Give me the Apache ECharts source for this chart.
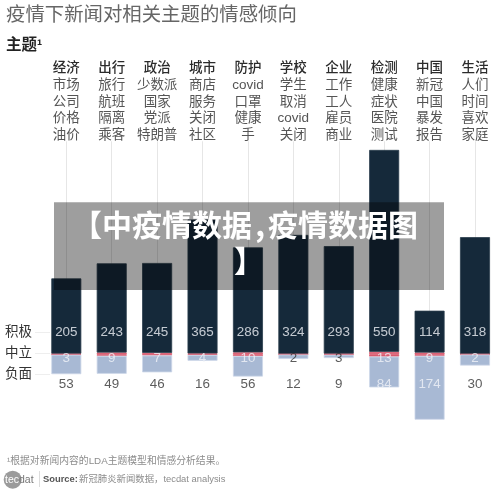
<!DOCTYPE html>
<html lang="zh">
<head>
    <meta charset="UTF-8">
    <title>疫情下新闻对相关主题的情感倾向</title>
    <style>
        body{ margin: 0; background: #fff; }
        #chart{ width: 500px; height: 492px; }
    </style>
    <script src="https://cdn.jsdelivr.net/npm/echarts@6/dist/echarts.min.js"></script>
</head>
<body>
<div id="chart"></div>
<script type="text/javascript">
    var topics = ['经济','出行','政治','城市','防护','学校','企业','检测','中国','生活'];
    var topicWords = [
        ['市场','公司','价格','油价'],
        ['旅行','航班','隔离','乘客'],
        ['少数派','国家','党派','特朗普'],
        ['商店','服务','关闭','社区'],
        ['covid','口罩','健康','手'],
        ['学生','取消','covid','关闭'],
        ['工作','工人','雇员','商业'],
        ['健康','症状','医院','测试'],
        ['新冠','中国','暴发','报告'],
        ['人们','时间','喜欢','家庭']
    ];
    var positive = [205,243,245,365,286,324,293,550,114,318];
    var neutral = [3,9,7,4,10,2,3,13,9,2];
    var negative = [53,49,46,16,56,12,9,84,174,30];
    var rowNames = ['积极','中立','负面'];
    var rowTicks = [60,3,-56];

    var FONT = '"Liberation Sans","Noto Sans CJK SC",sans-serif';
    var DARK_TEXT = '#333';
    var LIGHT_TEXT = '#f0f3f7';
    var Y_MAX = 580, Y_MIN = -200;
    var ROW_POS = 60, ROW_NEU = -11, ROW_NEG = -82;   // fixed heights of the number rows

    // neutral sits centred on the zero line, half up and half down
    var neutralHalf = neutral.map(function(v){ return v / 2; });
    var neutralHalfDown = neutral.map(function(v){ return -v / 2; });
    var negativeDown = negative.map(function(v){ return -v; });

    function barSeries(name, data, color, border){
        return {
            name: name, type: 'bar', stack: 'sentiment', barWidth: 30, z: 2,
            data: data,
            itemStyle: { color: color, borderColor: border, borderWidth: 0.8 }
        };
    }

    function numberRow(name, y, values, colorOf){
        return {
            name: name, type: 'scatter', symbolSize: 1, z: 5,
            itemStyle: { color: 'transparent' },
            data: values.map(function(v, i){
                return {
                    value: [topics[i], y],
                    label: { show: true, position: 'inside', formatter: String(v), color: colorOf(i),
                             fontSize: 13.4, fontFamily: FONT }
                };
            })
        };
    }

    var option = {
        animation: false,
        grid: { left: 43.6, right: 2.3, top: 141.3, bottom: 64.4 },
        xAxis: {
            type: 'category', position: 'top', data: topics,
            axisLine: { show: false }, axisTick: { show: false },
            axisLabel: {
                interval: 0, margin: -2.5, hideOverlap: false,
                formatter: function(value, i){
                    var lines = ['{head|' + value + '}'];
                    topicWords[i].forEach(function(w){ lines.push('{word|' + w + '}'); });
                    return lines.join('\n');
                },
                rich: {
                    head: { fontSize: 13.5, lineHeight: 16.8, color: '#2b2b2b', fontFamily: FONT, fontWeight: 500 },
                    word: { fontSize: 13.5, lineHeight: 16.8, color: '#555', fontFamily: FONT }
                }
            }
        },
        yAxis: {
            type: 'value', min: Y_MIN, max: Y_MAX, offset: -6.4,
            splitLine: { show: false }, axisLine: { show: false },
            axisTick: { show: true, length: 15, customValues: rowTicks, lineStyle: { color: '#eeeeee' } },
            axisLabel: {
                margin: 18, fontSize: 13.5, color: '#333', fontFamily: FONT,
                customValues: rowTicks,
                formatter: function(v){ return rowNames[rowTicks.indexOf(v)]; }
            }
        },
        series: [
            {
                name: 'guides', type: 'line', data: [], z: 1,
                markLine: {
                    silent: true, symbol: 'none', z: 1, label: { show: false },
                    lineStyle: { color: '#e6e6e6', width: 1, type: 'solid' },
                    data: topics.map(function(t){ return [{ xAxis: t, yAxis: 0 }, { xAxis: t, yAxis: Y_MAX }]; })
                }
            },
            barSeries('中立', neutralHalf, '#d95a6e', '#d95a6e'),
            barSeries('积极', positive, '#15293a', '#2b3e4d'),
            barSeries('中立下', neutralHalfDown, '#d95a6e', '#d95a6e'),
            barSeries('负面', negativeDown, '#a8b9d4', '#cdd7e8'),
            numberRow('积极数', ROW_POS, positive, function(){ return LIGHT_TEXT; }),
            numberRow('中立数', ROW_NEU, neutral, function(i){ return negative[i] > 12 ? LIGHT_TEXT : DARK_TEXT; }),
            numberRow('负面数', ROW_NEG, negative, function(i){ return negative[i] > 60 ? LIGHT_TEXT : DARK_TEXT; })
        ],
        graphic: [
            { type: 'text', left: 6, top: 6, style: { text: '疫情下新闻对相关主题的情感倾向', fill: '#666', font: '19.4px ' + FONT } },
            { type: 'text', left: 6, top: 38, style: { text: '主题¹', fill: '#222', font: 'bold 15.5px ' + FONT } },
            { type: 'text', left: 7, top: 456, style: { text: '¹根据对新闻内容的LDA主题模型和情感分析结果。', fill: '#8c8c8c', font: '9.8px ' + FONT } },
            { type: 'circle', shape: { cx: 12.7, cy: 479.7, r: 9 }, style: { fill: '#9b9b9b' } },
            { type: 'text', left: 5, top: 475, style: {
                text: '{a|tec}{b|dat}',
                rich: {
                    a: { fill: '#fff', font: '10.5px ' + FONT },
                    b: { fill: '#777', font: '10.5px ' + FONT }
                }
            } },
            { type: 'line', shape: { x1: 39.5, y1: 471, x2: 39.5, y2: 487 }, style: { stroke: '#ddd', lineWidth: 1 } },
            { type: 'text', left: 43, top: 475, style: { text: 'Source:', fill: '#555', font: 'bold 9.4px ' + FONT } },
            { type: 'text', left: 79, top: 475, style: { text: '新冠肺炎新闻数据，tecdat analysis', fill: '#8c8c8c', font: '9.4px ' + FONT } },
            // caption box printed over the chart
            { type: 'rect', z: 100, shape: { x: 54, y: 202.3, width: 390, height: 87.7 }, style: { fill: 'rgba(0,0,0,0.38)' } },
            { type: 'text', z: 101, x: 245, y: 207, style: {
                text: '{t|【中疫情数据}{c|,}{t|疫情数据图}', align: 'center',
                rich: {
                    t: { fill: '#fff', font: 'bold 30px "Noto Sans CJK SC",sans-serif', lineHeight: 36 },
                    c: { fill: '#fff', font: 'bold 30px "Noto Sans CJK SC",sans-serif', lineHeight: 36, width: 16 }
                }
            } },
            { type: 'text', z: 101, x: 249, y: 243, style: {
                text: '】', fill: '#fff', align: 'center', lineHeight: 36,
                font: 'bold 30px "Noto Sans CJK SC",sans-serif'
            } }
        ]
    };

    var chart = echarts.init(document.getElementById('chart'));
    chart.setOption(option);
</script>
</body>
</html>
